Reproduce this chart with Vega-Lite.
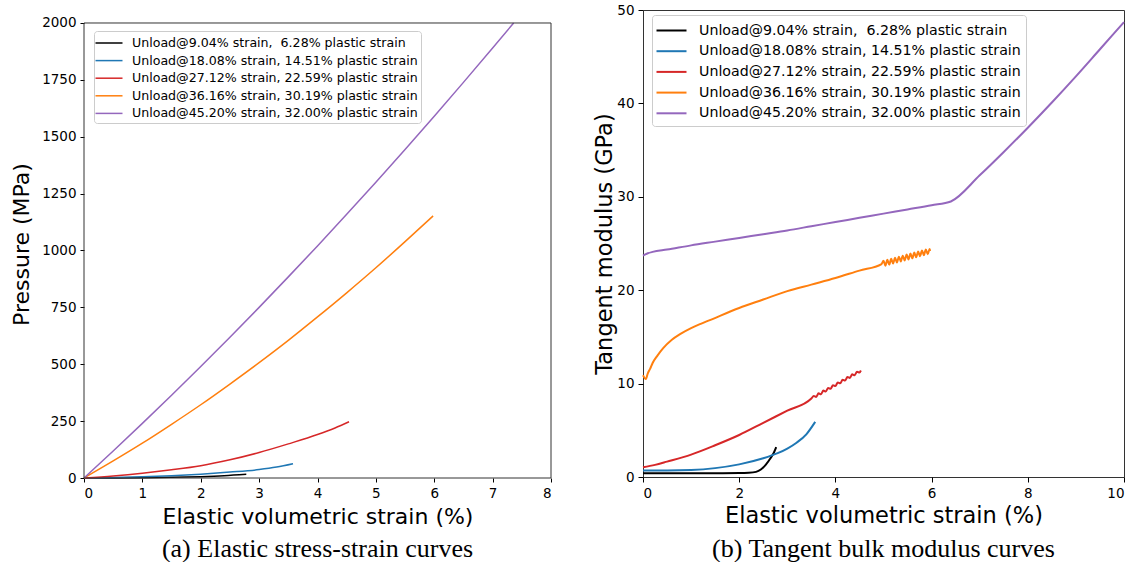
{
  "$schema": "https://vega.github.io/schema/vega-lite/v6.json",
  "padding": {"left": 10, "top": 2, "right": 0, "bottom": 0},
  "background": "white",
  "datasets": {
    "pressure": [
      {"run": "Unload@9.04% strain, \u00a06.28% plastic strain", "strain": 0, "pressure": 0},
      {"run": "Unload@9.04% strain, \u00a06.28% plastic strain", "strain": 0.5, "pressure": 0.5},
      {"run": "Unload@9.04% strain, \u00a06.28% plastic strain", "strain": 1, "pressure": 1.5},
      {"run": "Unload@9.04% strain, \u00a06.28% plastic strain", "strain": 1.5, "pressure": 3},
      {"run": "Unload@9.04% strain, \u00a06.28% plastic strain", "strain": 2, "pressure": 6},
      {"run": "Unload@9.04% strain, \u00a06.28% plastic strain", "strain": 2.4, "pressure": 10},
      {"run": "Unload@9.04% strain, \u00a06.28% plastic strain", "strain": 2.78, "pressure": 16},
      {"run": "Unload@18.08% strain, 14.51% plastic strain", "strain": 0, "pressure": 0},
      {"run": "Unload@18.08% strain, 14.51% plastic strain", "strain": 0.5, "pressure": 2},
      {"run": "Unload@18.08% strain, 14.51% plastic strain", "strain": 1, "pressure": 5},
      {"run": "Unload@18.08% strain, 14.51% plastic strain", "strain": 1.5, "pressure": 10},
      {"run": "Unload@18.08% strain, 14.51% plastic strain", "strain": 2, "pressure": 17},
      {"run": "Unload@18.08% strain, 14.51% plastic strain", "strain": 2.5, "pressure": 26},
      {"run": "Unload@18.08% strain, 14.51% plastic strain", "strain": 3, "pressure": 37},
      {"run": "Unload@18.08% strain, 14.51% plastic strain", "strain": 3.3, "pressure": 48},
      {"run": "Unload@18.08% strain, 14.51% plastic strain", "strain": 3.58, "pressure": 63},
      {"run": "Unload@27.12% strain, 22.59% plastic strain", "strain": 0, "pressure": 0},
      {"run": "Unload@27.12% strain, 22.59% plastic strain", "strain": 0.5, "pressure": 9},
      {"run": "Unload@27.12% strain, 22.59% plastic strain", "strain": 1, "pressure": 21},
      {"run": "Unload@27.12% strain, 22.59% plastic strain", "strain": 1.5, "pressure": 36},
      {"run": "Unload@27.12% strain, 22.59% plastic strain", "strain": 2, "pressure": 54},
      {"run": "Unload@27.12% strain, 22.59% plastic strain", "strain": 2.5, "pressure": 80},
      {"run": "Unload@27.12% strain, 22.59% plastic strain", "strain": 3, "pressure": 112},
      {"run": "Unload@27.12% strain, 22.59% plastic strain", "strain": 3.5, "pressure": 150},
      {"run": "Unload@27.12% strain, 22.59% plastic strain", "strain": 4, "pressure": 191},
      {"run": "Unload@27.12% strain, 22.59% plastic strain", "strain": 4.3, "pressure": 220},
      {"run": "Unload@27.12% strain, 22.59% plastic strain", "strain": 4.54, "pressure": 247},
      {"run": "Unload@36.16% strain, 30.19% plastic strain", "strain": 0, "pressure": 0},
      {"run": "Unload@36.16% strain, 30.19% plastic strain", "strain": 0.5, "pressure": 75},
      {"run": "Unload@36.16% strain, 30.19% plastic strain", "strain": 1, "pressure": 153},
      {"run": "Unload@36.16% strain, 30.19% plastic strain", "strain": 1.5, "pressure": 236},
      {"run": "Unload@36.16% strain, 30.19% plastic strain", "strain": 2, "pressure": 322},
      {"run": "Unload@36.16% strain, 30.19% plastic strain", "strain": 2.5, "pressure": 413},
      {"run": "Unload@36.16% strain, 30.19% plastic strain", "strain": 3, "pressure": 507},
      {"run": "Unload@36.16% strain, 30.19% plastic strain", "strain": 3.5, "pressure": 605},
      {"run": "Unload@36.16% strain, 30.19% plastic strain", "strain": 4, "pressure": 708},
      {"run": "Unload@36.16% strain, 30.19% plastic strain", "strain": 4.5, "pressure": 814},
      {"run": "Unload@36.16% strain, 30.19% plastic strain", "strain": 5, "pressure": 924},
      {"run": "Unload@36.16% strain, 30.19% plastic strain", "strain": 5.5, "pressure": 1039},
      {"run": "Unload@36.16% strain, 30.19% plastic strain", "strain": 5.98, "pressure": 1152},
      {"run": "Unload@45.20% strain, 32.00% plastic strain", "strain": 0, "pressure": 0},
      {"run": "Unload@45.20% strain, 32.00% plastic strain", "strain": 0.5, "pressure": 119},
      {"run": "Unload@45.20% strain, 32.00% plastic strain", "strain": 1, "pressure": 240},
      {"run": "Unload@45.20% strain, 32.00% plastic strain", "strain": 1.5, "pressure": 364},
      {"run": "Unload@45.20% strain, 32.00% plastic strain", "strain": 2, "pressure": 490},
      {"run": "Unload@45.20% strain, 32.00% plastic strain", "strain": 2.5, "pressure": 619},
      {"run": "Unload@45.20% strain, 32.00% plastic strain", "strain": 3, "pressure": 750},
      {"run": "Unload@45.20% strain, 32.00% plastic strain", "strain": 3.5, "pressure": 884},
      {"run": "Unload@45.20% strain, 32.00% plastic strain", "strain": 4, "pressure": 1020},
      {"run": "Unload@45.20% strain, 32.00% plastic strain", "strain": 4.5, "pressure": 1159},
      {"run": "Unload@45.20% strain, 32.00% plastic strain", "strain": 5, "pressure": 1300},
      {"run": "Unload@45.20% strain, 32.00% plastic strain", "strain": 5.5, "pressure": 1444},
      {"run": "Unload@45.20% strain, 32.00% plastic strain", "strain": 6, "pressure": 1590},
      {"run": "Unload@45.20% strain, 32.00% plastic strain", "strain": 6.5, "pressure": 1739},
      {"run": "Unload@45.20% strain, 32.00% plastic strain", "strain": 7, "pressure": 1890},
      {"run": "Unload@45.20% strain, 32.00% plastic strain", "strain": 7.36, "pressure": 2000}
    ],
    "modulus": [
      {"run": "Unload@9.04% strain, \u00a06.28% plastic strain", "strain": 0, "modulus": 0.4},
      {"run": "Unload@9.04% strain, \u00a06.28% plastic strain", "strain": 1, "modulus": 0.4},
      {"run": "Unload@9.04% strain, \u00a06.28% plastic strain", "strain": 2, "modulus": 0.42},
      {"run": "Unload@9.04% strain, \u00a06.28% plastic strain", "strain": 2.2, "modulus": 0.45},
      {"run": "Unload@9.04% strain, \u00a06.28% plastic strain", "strain": 2.35, "modulus": 0.55},
      {"run": "Unload@9.04% strain, \u00a06.28% plastic strain", "strain": 2.45, "modulus": 0.8},
      {"run": "Unload@9.04% strain, \u00a06.28% plastic strain", "strain": 2.55, "modulus": 1.3},
      {"run": "Unload@9.04% strain, \u00a06.28% plastic strain", "strain": 2.65, "modulus": 2.0},
      {"run": "Unload@9.04% strain, \u00a06.28% plastic strain", "strain": 2.72, "modulus": 2.6},
      {"run": "Unload@9.04% strain, \u00a06.28% plastic strain", "strain": 2.77, "modulus": 3.2},
      {"run": "Unload@18.08% strain, 14.51% plastic strain", "strain": 0, "modulus": 0.7},
      {"run": "Unload@18.08% strain, 14.51% plastic strain", "strain": 0.5, "modulus": 0.7},
      {"run": "Unload@18.08% strain, 14.51% plastic strain", "strain": 1, "modulus": 0.75},
      {"run": "Unload@18.08% strain, 14.51% plastic strain", "strain": 1.5, "modulus": 0.95},
      {"run": "Unload@18.08% strain, 14.51% plastic strain", "strain": 2, "modulus": 1.35},
      {"run": "Unload@18.08% strain, 14.51% plastic strain", "strain": 2.5, "modulus": 2.0},
      {"run": "Unload@18.08% strain, 14.51% plastic strain", "strain": 2.8, "modulus": 2.55},
      {"run": "Unload@18.08% strain, 14.51% plastic strain", "strain": 3, "modulus": 3.05},
      {"run": "Unload@18.08% strain, 14.51% plastic strain", "strain": 3.2, "modulus": 3.7},
      {"run": "Unload@18.08% strain, 14.51% plastic strain", "strain": 3.4, "modulus": 4.6},
      {"run": "Unload@18.08% strain, 14.51% plastic strain", "strain": 3.58, "modulus": 5.9},
      {"run": "Unload@27.12% strain, 22.59% plastic strain", "strain": 0, "modulus": 1.05},
      {"run": "Unload@27.12% strain, 22.59% plastic strain", "strain": 0.25, "modulus": 1.3},
      {"run": "Unload@27.12% strain, 22.59% plastic strain", "strain": 0.5, "modulus": 1.65},
      {"run": "Unload@27.12% strain, 22.59% plastic strain", "strain": 1, "modulus": 2.4},
      {"run": "Unload@27.12% strain, 22.59% plastic strain", "strain": 1.5, "modulus": 3.4},
      {"run": "Unload@27.12% strain, 22.59% plastic strain", "strain": 2, "modulus": 4.5},
      {"run": "Unload@27.12% strain, 22.59% plastic strain", "strain": 2.5, "modulus": 5.8},
      {"run": "Unload@27.12% strain, 22.59% plastic strain", "strain": 3, "modulus": 7.1},
      {"run": "Unload@27.12% strain, 22.59% plastic strain", "strain": 3.5, "modulus": 8.4},
      {"run": "Unload@27.12% strain, 22.59% plastic strain", "strain": 3.55, "modulus": 8.67},
      {"run": "Unload@27.12% strain, 22.59% plastic strain", "strain": 3.6, "modulus": 8.57},
      {"run": "Unload@27.12% strain, 22.59% plastic strain", "strain": 3.65, "modulus": 8.96},
      {"run": "Unload@27.12% strain, 22.59% plastic strain", "strain": 3.7, "modulus": 8.86},
      {"run": "Unload@27.12% strain, 22.59% plastic strain", "strain": 3.75, "modulus": 9.25},
      {"run": "Unload@27.12% strain, 22.59% plastic strain", "strain": 3.8, "modulus": 9.15},
      {"run": "Unload@27.12% strain, 22.59% plastic strain", "strain": 3.85, "modulus": 9.54},
      {"run": "Unload@27.12% strain, 22.59% plastic strain", "strain": 3.9, "modulus": 9.44},
      {"run": "Unload@27.12% strain, 22.59% plastic strain", "strain": 3.95, "modulus": 9.83},
      {"run": "Unload@27.12% strain, 22.59% plastic strain", "strain": 4.0, "modulus": 9.74},
      {"run": "Unload@27.12% strain, 22.59% plastic strain", "strain": 4.05, "modulus": 10.12},
      {"run": "Unload@27.12% strain, 22.59% plastic strain", "strain": 4.1, "modulus": 10.03},
      {"run": "Unload@27.12% strain, 22.59% plastic strain", "strain": 4.15, "modulus": 10.41},
      {"run": "Unload@27.12% strain, 22.59% plastic strain", "strain": 4.2, "modulus": 10.32},
      {"run": "Unload@27.12% strain, 22.59% plastic strain", "strain": 4.25, "modulus": 10.7},
      {"run": "Unload@27.12% strain, 22.59% plastic strain", "strain": 4.3, "modulus": 10.61},
      {"run": "Unload@27.12% strain, 22.59% plastic strain", "strain": 4.35, "modulus": 10.99},
      {"run": "Unload@27.12% strain, 22.59% plastic strain", "strain": 4.4, "modulus": 10.9},
      {"run": "Unload@27.12% strain, 22.59% plastic strain", "strain": 4.45, "modulus": 11.28},
      {"run": "Unload@27.12% strain, 22.59% plastic strain", "strain": 4.5, "modulus": 11.19},
      {"run": "Unload@27.12% strain, 22.59% plastic strain", "strain": 4.53, "modulus": 11.4},
      {"run": "Unload@36.16% strain, 30.19% plastic strain", "strain": 0, "modulus": 10.9},
      {"run": "Unload@36.16% strain, 30.19% plastic strain", "strain": 0.06, "modulus": 10.5},
      {"run": "Unload@36.16% strain, 30.19% plastic strain", "strain": 0.1, "modulus": 11.1},
      {"run": "Unload@36.16% strain, 30.19% plastic strain", "strain": 0.15, "modulus": 11.6},
      {"run": "Unload@36.16% strain, 30.19% plastic strain", "strain": 0.2, "modulus": 12.2},
      {"run": "Unload@36.16% strain, 30.19% plastic strain", "strain": 0.3, "modulus": 13.0},
      {"run": "Unload@36.16% strain, 30.19% plastic strain", "strain": 0.42, "modulus": 13.8},
      {"run": "Unload@36.16% strain, 30.19% plastic strain", "strain": 0.6, "modulus": 14.7},
      {"run": "Unload@36.16% strain, 30.19% plastic strain", "strain": 0.77, "modulus": 15.3},
      {"run": "Unload@36.16% strain, 30.19% plastic strain", "strain": 1, "modulus": 15.95},
      {"run": "Unload@36.16% strain, 30.19% plastic strain", "strain": 1.2, "modulus": 16.4},
      {"run": "Unload@36.16% strain, 30.19% plastic strain", "strain": 1.39, "modulus": 16.8},
      {"run": "Unload@36.16% strain, 30.19% plastic strain", "strain": 2, "modulus": 18.1},
      {"run": "Unload@36.16% strain, 30.19% plastic strain", "strain": 2.5, "modulus": 19.0},
      {"run": "Unload@36.16% strain, 30.19% plastic strain", "strain": 3, "modulus": 19.9},
      {"run": "Unload@36.16% strain, 30.19% plastic strain", "strain": 3.5, "modulus": 20.6},
      {"run": "Unload@36.16% strain, 30.19% plastic strain", "strain": 4, "modulus": 21.3},
      {"run": "Unload@36.16% strain, 30.19% plastic strain", "strain": 4.5, "modulus": 22.1},
      {"run": "Unload@36.16% strain, 30.19% plastic strain", "strain": 4.96, "modulus": 22.8},
      {"run": "Unload@36.16% strain, 30.19% plastic strain", "strain": 5.0, "modulus": 23.14},
      {"run": "Unload@36.16% strain, 30.19% plastic strain", "strain": 5.04, "modulus": 22.63},
      {"run": "Unload@36.16% strain, 30.19% plastic strain", "strain": 5.08, "modulus": 23.25},
      {"run": "Unload@36.16% strain, 30.19% plastic strain", "strain": 5.12, "modulus": 22.74},
      {"run": "Unload@36.16% strain, 30.19% plastic strain", "strain": 5.16, "modulus": 23.36},
      {"run": "Unload@36.16% strain, 30.19% plastic strain", "strain": 5.2, "modulus": 22.86},
      {"run": "Unload@36.16% strain, 30.19% plastic strain", "strain": 5.24, "modulus": 23.47},
      {"run": "Unload@36.16% strain, 30.19% plastic strain", "strain": 5.28, "modulus": 22.97},
      {"run": "Unload@36.16% strain, 30.19% plastic strain", "strain": 5.32, "modulus": 23.58},
      {"run": "Unload@36.16% strain, 30.19% plastic strain", "strain": 5.36, "modulus": 23.08},
      {"run": "Unload@36.16% strain, 30.19% plastic strain", "strain": 5.4, "modulus": 23.7},
      {"run": "Unload@36.16% strain, 30.19% plastic strain", "strain": 5.44, "modulus": 23.19},
      {"run": "Unload@36.16% strain, 30.19% plastic strain", "strain": 5.48, "modulus": 23.81},
      {"run": "Unload@36.16% strain, 30.19% plastic strain", "strain": 5.52, "modulus": 23.3},
      {"run": "Unload@36.16% strain, 30.19% plastic strain", "strain": 5.56, "modulus": 23.92},
      {"run": "Unload@36.16% strain, 30.19% plastic strain", "strain": 5.6, "modulus": 23.42},
      {"run": "Unload@36.16% strain, 30.19% plastic strain", "strain": 5.64, "modulus": 24.03},
      {"run": "Unload@36.16% strain, 30.19% plastic strain", "strain": 5.68, "modulus": 23.53},
      {"run": "Unload@36.16% strain, 30.19% plastic strain", "strain": 5.72, "modulus": 24.14},
      {"run": "Unload@36.16% strain, 30.19% plastic strain", "strain": 5.76, "modulus": 23.64},
      {"run": "Unload@36.16% strain, 30.19% plastic strain", "strain": 5.8, "modulus": 24.26},
      {"run": "Unload@36.16% strain, 30.19% plastic strain", "strain": 5.84, "modulus": 23.75},
      {"run": "Unload@36.16% strain, 30.19% plastic strain", "strain": 5.88, "modulus": 24.37},
      {"run": "Unload@36.16% strain, 30.19% plastic strain", "strain": 5.92, "modulus": 23.86},
      {"run": "Unload@36.16% strain, 30.19% plastic strain", "strain": 5.96, "modulus": 24.4},
      {"run": "Unload@36.16% strain, 30.19% plastic strain", "strain": 5.97, "modulus": 24.2},
      {"run": "Unload@45.20% strain, 32.00% plastic strain", "strain": 0, "modulus": 23.7},
      {"run": "Unload@45.20% strain, 32.00% plastic strain", "strain": 0.1, "modulus": 23.95},
      {"run": "Unload@45.20% strain, 32.00% plastic strain", "strain": 0.2, "modulus": 24.1},
      {"run": "Unload@45.20% strain, 32.00% plastic strain", "strain": 0.5, "modulus": 24.35},
      {"run": "Unload@45.20% strain, 32.00% plastic strain", "strain": 1, "modulus": 24.8},
      {"run": "Unload@45.20% strain, 32.00% plastic strain", "strain": 1.5, "modulus": 25.2},
      {"run": "Unload@45.20% strain, 32.00% plastic strain", "strain": 2, "modulus": 25.6},
      {"run": "Unload@45.20% strain, 32.00% plastic strain", "strain": 2.5, "modulus": 26.0},
      {"run": "Unload@45.20% strain, 32.00% plastic strain", "strain": 3, "modulus": 26.4},
      {"run": "Unload@45.20% strain, 32.00% plastic strain", "strain": 3.5, "modulus": 26.85},
      {"run": "Unload@45.20% strain, 32.00% plastic strain", "strain": 4, "modulus": 27.3},
      {"run": "Unload@45.20% strain, 32.00% plastic strain", "strain": 4.5, "modulus": 27.75},
      {"run": "Unload@45.20% strain, 32.00% plastic strain", "strain": 5, "modulus": 28.2},
      {"run": "Unload@45.20% strain, 32.00% plastic strain", "strain": 5.5, "modulus": 28.65},
      {"run": "Unload@45.20% strain, 32.00% plastic strain", "strain": 6, "modulus": 29.1},
      {"run": "Unload@45.20% strain, 32.00% plastic strain", "strain": 6.4, "modulus": 29.5},
      {"run": "Unload@45.20% strain, 32.00% plastic strain", "strain": 7, "modulus": 32.3},
      {"run": "Unload@45.20% strain, 32.00% plastic strain", "strain": 7.5, "modulus": 34.8},
      {"run": "Unload@45.20% strain, 32.00% plastic strain", "strain": 8, "modulus": 37.4},
      {"run": "Unload@45.20% strain, 32.00% plastic strain", "strain": 8.5, "modulus": 40.1},
      {"run": "Unload@45.20% strain, 32.00% plastic strain", "strain": 9, "modulus": 42.9},
      {"run": "Unload@45.20% strain, 32.00% plastic strain", "strain": 9.5, "modulus": 45.8},
      {"run": "Unload@45.20% strain, 32.00% plastic strain", "strain": 10, "modulus": 48.7}
    ]
  },
  "hconcat": [
    {
      "title": {"text": "(a) Elastic stress-strain curves", "orient": "bottom", "offset": 8},
      "width": 467,
      "height": 468,
      "view": {"stroke": null},
      "layer": [
        {
          "data": {"name": "pressure"},
          "mark": {"type": "line", "strokeWidth": 1.5, "interpolate": "monotone"},
          "encoding": {
            "x": {"field": "strain", "type": "quantitative", "scale": {"domain": [0, 8], "nice": false},
                  "axis": {"values": [0, 1, 2, 3, 4, 5, 6, 7, 8], "format": "d", "title": "Elastic volumetric strain (%)", "titlePadding": 7, "tickSize": 4, "labelPadding": 4}},
            "y": {"field": "pressure", "type": "quantitative", "scale": {"domain": [0, 2057.1], "nice": false},
                  "axis": {"values": [0, 250, 500, 750, 1000, 1250, 1500, 1750, 2000], "format": "d", "title": "Pressure (MPa)", "titlePadding": 8.5, "tickSize": 4, "labelPadding": 4}},
            "color": {"field": "run", "type": "nominal",
              "scale": {"domain": ["Unload@9.04% strain, \u00a06.28% plastic strain", "Unload@18.08% strain, 14.51% plastic strain", "Unload@27.12% strain, 22.59% plastic strain", "Unload@36.16% strain, 30.19% plastic strain", "Unload@45.20% strain, 32.00% plastic strain"],
                        "range": ["#000000", "#1f77b4", "#d62728", "#ff7f0e", "#9467bd"]},
              "legend": {"orient": "none", "legendX": 10, "legendY": 21, "title": null, "padding": 3, "rowPadding": 1.6, "labelFontSize": 12.6, "labelOffset": 14, "symbolType": "M-1.6875,0H1.6875", "symbolSize": 256, "symbolStrokeWidth": 1.5, "symbolOffset": 3}}
          }
        },
        {
          "data": {"values": [{}]},
          "mark": {"type": "rule", "color": "#333333", "strokeWidth": 1},
          "encoding": {"y": {"datum": 2000}}
        },
        {
          "data": {"values": [{}]},
          "mark": {"type": "rule", "color": "#333333", "strokeWidth": 1},
          "encoding": {"y": {"datum": 0}}
        },
        {
          "data": {"values": [{}]},
          "mark": {"type": "rule", "color": "#333333", "strokeWidth": 1},
          "encoding": {"x": {"datum": 0}, "y": {"datum": 0}, "y2": {"datum": 2000}}
        },
        {
          "data": {"values": [{}]},
          "mark": {"type": "rule", "color": "#333333", "strokeWidth": 1},
          "encoding": {"x": {"datum": 8}, "y": {"datum": 0}, "y2": {"datum": 2000}}
        }
      ]
    },
    {
      "title": {"text": "(b) Tangent bulk modulus curves", "orient": "bottom", "offset": 8.5},
      "width": 481,
      "height": 467,
      "data": {"name": "modulus"},
      "mark": {"type": "line", "strokeWidth": 2, "interpolate": "monotone"},
      "encoding": {
        "x": {"field": "strain", "type": "quantitative", "scale": {"domain": [0, 10], "nice": false},
              "axis": {"values": [0, 2, 4, 6, 8, 10], "title": "Elastic volumetric strain (%)", "titlePadding": 5, "tickSize": 5, "labelPadding": 4, "titleFontSize": 22.5}},
        "y": {"field": "modulus", "type": "quantitative", "scale": {"domain": [0, 50], "nice": false},
              "axis": {"values": [0, 10, 20, 30, 40, 50], "title": "Tangent modulus (GPa)", "titlePadding": 0.5, "tickSize": 5, "labelPadding": 4, "titleFontSize": 22.5}},
        "color": {"field": "run", "type": "nominal",
          "scale": {"domain": ["Unload@9.04% strain, \u00a06.28% plastic strain", "Unload@18.08% strain, 14.51% plastic strain", "Unload@27.12% strain, 22.59% plastic strain", "Unload@36.16% strain, 30.19% plastic strain", "Unload@45.20% strain, 32.00% plastic strain"],
                    "range": ["#000000", "#1f77b4", "#d62728", "#ff7f0e", "#9467bd"]},
          "legend": {"orient": "none", "legendX": 9, "legendY": 5, "title": null, "padding": 5, "rowPadding": 2.7, "labelFontSize": 14.2, "labelOffset": 17, "symbolType": "M-1.579,0H1.579", "symbolSize": 361, "symbolStrokeWidth": 2, "symbolOffset": 4}}
      }
    }
  ],
  "spacing": 40,
  "resolve": {"scale": {"color": "independent"}, "legend": {"color": "independent"}},
  "config": {
    "font": "DejaVu Sans",
    "view": {"stroke": "#333333", "strokeWidth": 1},
    "axis": {"grid": false, "domain": false, "labelFont": "DejaVu Sans", "labelFontSize": 13.5, "labelColor": "#000000", "tickColor": "#000000", "tickWidth": 1,
             "titleFont": "DejaVu Sans", "titleFontSize": 22, "titleFontWeight": "normal", "titleColor": "#000000"},
    "legend": {"fillColor": "#ffffff", "strokeColor": "#cccccc", "cornerRadius": 3, "labelFont": "DejaVu Sans", "labelColor": "#000000", "labelLimit": 600},
    "title": {"font": "Liberation Serif", "fontSize": 26, "fontWeight": "normal", "color": "#000000", "anchor": "middle"}
  }
}
